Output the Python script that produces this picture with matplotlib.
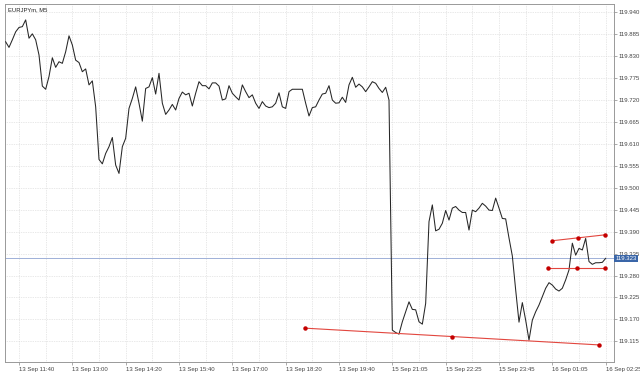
import matplotlib
matplotlib.use("Agg")
import matplotlib.pyplot as plt
import matplotlib.transforms as mtransforms

# close price of each M5 bar
close = [
    119.866, 119.852, 119.871, 119.891, 119.902, 119.904, 119.921, 119.875, 119.886, 119.871,
    119.833, 119.755, 119.747, 119.779, 119.826, 119.802, 119.816, 119.812, 119.841, 119.881,
    119.858, 119.820, 119.814, 119.791, 119.798, 119.758, 119.768, 119.703, 119.571, 119.560,
    119.586, 119.603, 119.626, 119.557, 119.536, 119.603, 119.624, 119.699, 119.724, 119.753,
    119.712, 119.667, 119.749, 119.753, 119.776, 119.735, 119.787, 119.712, 119.684, 119.695,
    119.709, 119.695, 119.724, 119.740, 119.733, 119.737, 119.705, 119.737, 119.766, 119.756,
    119.756, 119.748, 119.763, 119.763, 119.755, 119.720, 119.723, 119.756, 119.737, 119.728,
    119.720, 119.758, 119.741, 119.726, 119.733, 119.712, 119.699, 119.716, 119.705, 119.701,
    119.703, 119.712, 119.738, 119.703, 119.699, 119.741, 119.747, 119.747, 119.747, 119.747,
    119.712, 119.680, 119.701, 119.703, 119.720, 119.735, 119.737, 119.756, 119.720, 119.712,
    119.713, 119.727, 119.714, 119.758, 119.777, 119.752, 119.760, 119.753, 119.741, 119.753,
    119.766, 119.762, 119.749, 119.739, 119.752, 119.720, 119.143, 119.137, 119.133, 119.164,
    119.189, 119.214, 119.195, 119.194, 119.164, 119.158, 119.210, 119.415, 119.457, 119.392,
    119.396, 119.411, 119.443, 119.419, 119.449, 119.453, 119.444, 119.438, 119.438, 119.394,
    119.444, 119.440, 119.449, 119.461, 119.454, 119.444, 119.443, 119.474, 119.449, 119.423,
    119.422, 119.374, 119.329, 119.244, 119.163, 119.212, 119.168, 119.118, 119.168, 119.189,
    119.206, 119.227, 119.248, 119.262, 119.256, 119.246, 119.241, 119.248, 119.269, 119.294,
    119.361, 119.331, 119.348, 119.344, 119.373, 119.315, 119.308, 119.312, 119.312, 119.313,
    119.323,
]
bars = list(range(len(close)))

time_ticks = [4, 20, 36, 52, 68, 84, 100, 116, 132, 148, 164, 180]
time_labels = ["13 Sep 11:40", "13 Sep 13:00", "13 Sep 14:20", "13 Sep 15:40",
               "13 Sep 17:00", "13 Sep 18:20", "13 Sep 19:40", "15 Sep 21:05",
               "15 Sep 22:25", "15 Sep 23:45", "16 Sep 01:05", "16 Sep 02:25"]
price_ticks = [round(119.940 - 0.055 * k, 3) for k in range(16)]

# trendline objects (bar index, price), drawn with their anchor/mid handles
trend_low = ([89.7, 177.9], [119.148, 119.106])
chan_top = ([163.8, 179.8], [119.367, 119.382])
chan_bot = ([162.8, 179.8], [119.300, 119.300])
bid = 119.323

plt.rcParams['font.family'] = ['Liberation Sans', 'DejaVu Sans']

fig = plt.figure(figsize=(6.4, 3.74), dpi=100)
ax = fig.add_axes([5 / 640, 1 - 362 / 374, 609 / 640, 358 / 374])

ax.plot(bars, close, color='#262626', lw=0.75, zorder=3)

for xs, ys in (trend_low, chan_top, chan_bot):
    ax.plot(xs, ys, color='#e2463e', lw=0.8, zorder=4)
    mx = (xs[0] + xs[1]) / 2
    my = (ys[0] + ys[1]) / 2
    ax.plot([xs[0], mx, xs[1]], [ys[0], my, ys[1]], 'o', ms=2.2,
            color='#c40000', zorder=5)

ax.axhline(bid, color='#9fb0d8', lw=0.7, zorder=2)

ax.set_xlim(-0.2, 182.5)
ax.set_ylim(119.0631, 119.9608)

ax.yaxis.tick_right()
ax.set_yticks(price_ticks)
ax.set_yticklabels(['%.3f' % p for p in price_ticks])
ax.set_xticks(time_ticks)
ax.set_xticklabels(time_labels, ha='left')
ax.set_xticks([t + 8 for t in time_ticks[:-1]], minor=True)

ax.tick_params(axis='both', which='both', direction='out', length=2,
               width=0.5, color='#888888', labelsize=4.3, labelcolor='#444444', pad=1)
ax.tick_params(axis='x', which='minor', length=0)
ax.tick_params(axis='x', which='major', pad=1.5)
ax.grid(True, which='both', color='#d2d2d2', ls=(0, (1, 1.5)), lw=0.5, zorder=0)

for s in ax.spines.values():
    s.set_color('#999999')
    s.set_linewidth(0.7)

ax.text(0.005, 0.99, "EURJPYm, M5", transform=ax.transAxes, fontsize=4.2,
        color='#222222', va='top', ha='left')

trans = mtransforms.blended_transform_factory(ax.transAxes, ax.transData)
ax.text(1.002, bid, '%.3f' % bid, transform=trans, fontsize=4.3, color='white',
        va='center', ha='left', clip_on=False, zorder=10,
        bbox=dict(boxstyle='square,pad=0.2', fc='#3a66a8', ec='none'))

fig.savefig("out.png", dpi=100)
